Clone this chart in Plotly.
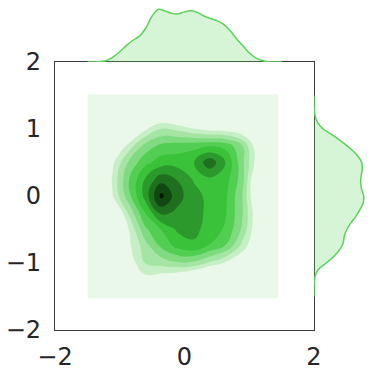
import plotly.graph_objects as go

# 2D KDE, expressed as contour level index (below 1 = background)
grid_x = [-1.5, -1.36, -1.11, -0.86, -0.61, -0.36, -0.11, 0.14, 0.39, 0.64, 0.89, 1.14, 1.45]
grid_y = [1.52, 1.25, 1.0, 0.75, 0.5, 0.25, 0.0, -0.25, -0.5, -0.75, -1.0, -1.25, -1.53]
kde_levels = [
    [-3, -3, -3, -3, -3, -3, -3, -3, -3, -3, -3, -3, -3],
    [-3, -3, -3, -3, -2.0, -0.94, -1.5, -2.1, -2.5, -3, -3, -3, -3],
    [-3, -3, -2.9, -1.25, 0.8, 2.0, 1.73, 1.09, 0.63, 0.44, -0.1, -1.7, -3],
    [-3, -3, -0.75, 1.4, 3.36, 4.25, 4.48, 4.66, 4.87, 4.65, 3.1, -0.06, -3],
    [-3, -2.25, 0.75, 3.17, 4.68, 5.5, 5.57, 5.95, 7.7, 5.95, 3.33, 0.25, -3],
    [-3, -1.8, 1.17, 3.95, 6.05, 7.6, 6.95, 5.9, 5.8, 5.4, 3.5, -1.0, -3],
    [-3, -2.25, 0.95, 3.65, 6.35, 9.3, 7.37, 6.4, 5.68, 5.15, 3.1, -0.85, -3],
    [-3, -3, -1.0, 2.2, 5.0, 7.28, 6.8, 6.3, 5.8, 5.05, 3.13, -0.1, -3],
    [-3, -3, -2.0, 1.0, 3.77, 5.03, 6.15, 6.35, 5.5, 4.85, 2.85, -0.25, -3],
    [-3, -3, -2.5, 0.75, 2.52, 4.17, 5.3, 5.75, 4.9, 3.9, 1.65, -0.5, -3],
    [-3, -3, -2.8, 0.25, 2.0, 2.39, 2.87, 2.75, 1.8, 0.8, -0.3, -1.5, -3],
    [-3, -3, -3, -1.0, 0.53, 0.15, -0.47, -1.4, -2.6, -3, -3, -3, -3],
    [-3, -3, -3, -3, -3, -3, -3, -3, -3, -3, -3, -3, -3],
]

# marginal densities
marg_pos = [-1.5, -1.4, -1.3, -1.2, -1.1, -1.0, -0.9, -0.8, -0.7, -0.6, -0.5,
            -0.4, -0.3, -0.2, -0.1, 0.0, 0.1, 0.2, 0.3, 0.4, 0.5,
            0.6, 0.7, 0.8, 0.9, 1.0, 1.1, 1.2, 1.3, 1.4, 1.5]
top_density = [0, 0, 0.007, 0.021, 0.069, 0.138, 0.221, 0.29, 0.345, 0.455, 0.621,
               0.711, 0.69, 0.656, 0.649, 0.676, 0.69, 0.669, 0.621, 0.587, 0.559,
               0.511, 0.428, 0.317, 0.221, 0.124, 0.055, 0.021, 0.004, 0, 0]
right_density = [0, 0, 0.003, 0.014, 0.055, 0.166, 0.269, 0.345, 0.393, 0.407, 0.442,
                 0.497, 0.566, 0.621, 0.662, 0.669, 0.642, 0.628, 0.635, 0.649, 0.642,
                 0.587, 0.497, 0.386, 0.262, 0.124, 0.048, 0.014, 0.003, 0, 0]

x_ticks = [-2, 0, 2]
y_ticks = [-2, -1, 0, 1, 2]

level_colors = ["#eaf8ea", "#c6efc6", "#a4e5a4", "#80db80", "#52cf52",
                "#3ac23a", "#2b992b", "#1e6f1e", "#114711", "#041604"]
line_green = "#5cd25c"
fill_green = "rgba(92,210,92,0.25)"

fig = go.Figure()

fig.add_trace(go.Contour(
    x=grid_x, y=grid_y, z=kde_levels,
    colorscale=[[i / 9, c] for i, c in enumerate(level_colors)],
    contours=dict(start=1, end=9, size=1, coloring="fill", showlines=False),
    line=dict(width=0, smoothing=1.3),
    showscale=False, hoverinfo="skip",
    xaxis="x", yaxis="y",
))

fig.add_trace(go.Scatter(
    x=marg_pos, y=top_density, mode="lines", line=dict(color=line_green, width=1.5, shape="spline"),
    fill="tozeroy", fillcolor=fill_green, xaxis="x2", yaxis="y2", hoverinfo="skip",
))

fig.add_trace(go.Scatter(
    x=right_density, y=marg_pos, mode="lines", line=dict(color=line_green, width=1.5, shape="spline"),
    fill="tozerox", fillcolor=fill_green, xaxis="x3", yaxis="y3", hoverinfo="skip",
))

main_x_dom = [55 / 373, 314 / 373]
main_y_dom = [1 - 330 / 375, 1 - 62 / 375]
frame = dict(showline=True, mirror=True, linecolor="#3c3c3c", linewidth=1.25,
             showgrid=False, zeroline=False, ticks="outside",
             tickcolor="rgba(0,0,0,0)", automargin=False)
hidden = dict(visible=False, showgrid=False, zeroline=False, automargin=False)

fig.update_layout(
    width=373, height=375,
    margin=dict(l=0, r=0, t=0, b=0, autoexpand=False),
    paper_bgcolor="white", plot_bgcolor="white",
    showlegend=False,
    font=dict(family="DejaVu Sans", size=24, color="#262626"),
    xaxis=dict(domain=main_x_dom, range=[-2, 2], tickvals=x_ticks, anchor="y", ticklen=5, **frame),
    yaxis=dict(domain=main_y_dom, range=[-2, 2], tickvals=y_ticks, anchor="x", ticklen=8, **frame),
    xaxis2=dict(domain=main_x_dom, range=[-2, 2], anchor="y2", **hidden),
    yaxis2=dict(domain=[main_y_dom[1], 1], range=[0, max(top_density) * 62 / 52.7], anchor="x2", **hidden),
    xaxis3=dict(domain=[main_x_dom[1], 1], range=[0, max(right_density) * 59 / 49.7], anchor="y3", **hidden),
    yaxis3=dict(domain=main_y_dom, range=[-2, 2], anchor="x3", **hidden),
)

# the page's default body margin would push the figure off the window
fig.write_html("out.html", config={"displayModeBar": False},
               post_script="document.body.style.margin='0';")
